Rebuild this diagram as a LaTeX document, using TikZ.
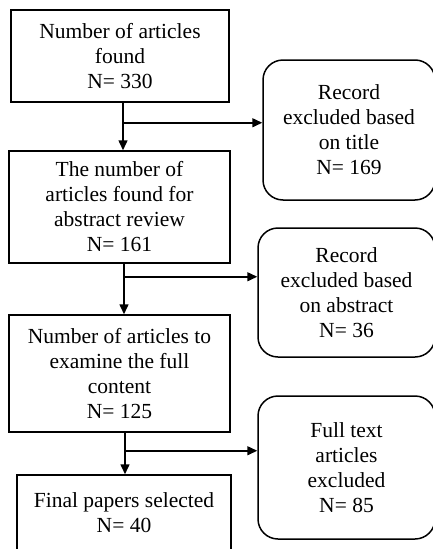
\documentclass[tikz,border=0pt]{standalone}
\usepackage{fontspec}
\setmainfont{Liberation Serif}
\usetikzlibrary{arrows.meta}

\begin{document}
\begin{tikzpicture}[x=1pt, y=-1pt,
    box/.style={draw, line width=1.5pt, align=center, inner sep=0pt,
      font=\fontsize{21.5}{25}\selectfont},
    roundbox/.style={box, rounded corners=20pt},
    arr/.style={line width=1.5pt, -{Triangle[length=10pt,width=9pt]}}]
    \path[use as bounding box, clip] (0,0) rectangle (433,549);

    % Cajas de la columna izquierda
    \node[box, minimum width=218pt, minimum height=92pt] (found) at (120,56)
      {Number of articles\\found\\N= 330};
    \node[box, minimum width=221pt, minimum height=112pt] (abstr) at (119.5,207)
      {The number of\\articles found for\\abstract review\\N= 161};
    \node[box, minimum width=221pt, minimum height=117pt] (full) at (119.5,373.5)
      {Number of articles to\\examine the full\\content\\N= 125};
    \node[box, minimum width=214pt, minimum height=76pt] (final) at (124,513)
      {Final papers selected\\N= 40};

    % Cajas redondeadas de exclusión
    \node[roundbox, minimum width=172pt, minimum height=140pt] (title) at (349,130)
      {Record\\excluded based\\on title\\N= 169};
    \node[roundbox, minimum width=177pt, minimum height=129pt] (abex) at (346.5,292.5)
      {Record\\excluded based\\on abstract\\N= 36};
    \node[roundbox, minimum width=177pt, minimum height=143pt] (ftex) at (346.5,467.5)
      {Full text\\articles\\excluded\\N= 85};

    % Flechas hacia abajo
    \coordinate (s1) at ([xshift=3pt]found.south);
    \coordinate (s2) at ([xshift=4.5pt]abstr.south);
    \coordinate (s3) at ([xshift=5.5pt]full.south);
    \draw[arr] (s1) -- (s1 |- abstr.north);
    \draw[arr] (s2) -- (s2 |- full.north);
    \draw[arr] (s3) -- (s3 |- final.north);

    % Flechas hacia las exclusiones
    \coordinate (b1) at ([yshift=-20pt]s1);
    \coordinate (b2) at ([yshift=-13pt]s2);
    \coordinate (b3) at ([yshift=-18pt]s3);
    \draw[arr] (b1) -- (b1 -| title.west);
    \draw[arr] (b2) -- (b2 -| abex.west);
    \draw[arr] (b3) -- (b3 -| ftex.west);
\end{tikzpicture}
\end{document}
